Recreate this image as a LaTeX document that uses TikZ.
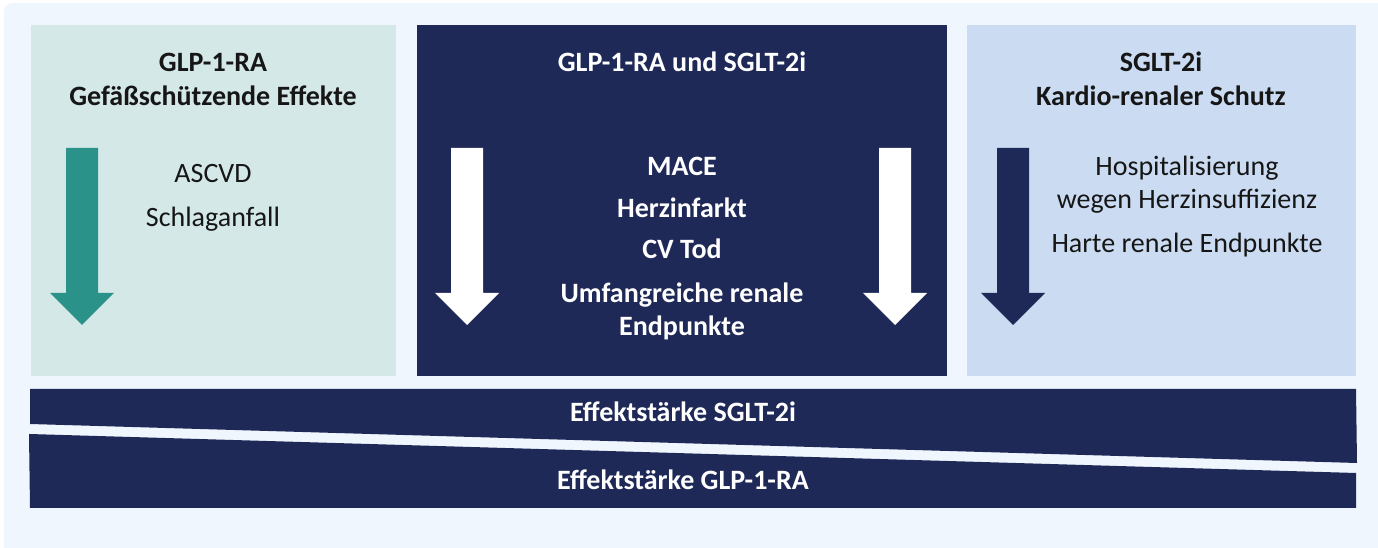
\documentclass[tikz,border=0pt]{standalone}
\usepackage{fontspec}
\setmainfont{Carlito}
\usepackage{tikz}
\definecolor{navy}{RGB}{31,41,87}
\definecolor{teal}{RGB}{42,146,137}
\definecolor{mint}{RGB}{212,232,232}
\definecolor{sky}{RGB}{203,220,242}
\definecolor{paper}{RGB}{239,246,253}
\definecolor{ink}{RGB}{22,22,22}

\begin{document}
\begin{tikzpicture}[x=0.75pt,y=-0.75pt,
    head/.style={font=\bfseries\fontsize{21}{25}\selectfont,anchor=base,inner sep=0pt},
    entry/.style={font=\fontsize{21}{25}\selectfont,anchor=base,inner sep=0pt,text=ink}]
    \useasboundingbox (0,0) rectangle (1378,548);
    \clip (0,0) rectangle (1378,548);
    \fill[paper,rounded corners=6pt] (4,3) rectangle (1395,565);
    \fill[mint] (31,25) rectangle (396,376);
    \fill[navy] (417,25) rectangle (947,376);
    \fill[sky] (967,25) rectangle (1356,376);
    \foreach \ax/\col in {82/teal,467/white,895/white,1013/navy}
      \fill[\col] (\ax-16,148) -- (\ax+16,148) -- (\ax+16,293) -- (\ax+32,293) -- (\ax,325) -- (\ax-32,293) -- (\ax-16,293) -- cycle;
    \fill[navy] (30,389) -- (1356,389) -- (1357,463) -- (30,424) -- cycle;
    \fill[navy] (29,434) -- (1356,473) -- (1356,508) -- (30,508) -- cycle;
    \node[head,text=ink] (glpA) at (213,72) {GLP-1-RA};
    \node[head,text=ink] (glpB) at (213,106) {Gefäßschützende Effekte};
    \node[entry] (ascvd) at (213,183) {ASCVD};
    \node[entry] (stroke) at (213,227) {Schlaganfall};
    \node[head,white] (both) at (682,72) {GLP-1-RA und SGLT-2i};
    \node[head,white] (mace) at (682,176) {MACE};
    \node[head,white] (infarct) at (682,218) {Herzinfarkt};
    \node[head,white] (cvdeath) at (682,259) {CV Tod};
    \node[head,white] (renalA) at (682,303) {Umfangreiche renale};
    \node[head,white] (renalB) at (682,336) {Endpunkte};
    \node[head,text=ink] (sgltA) at (1161,72) {SGLT-2i};
    \node[head,text=ink] (sgltB) at (1161,106) {Kardio-renaler Schutz};
    \node[entry] (hospA) at (1187,176) {Hospitalisierung};
    \node[entry] (hospB) at (1187,209) {wegen Herzinsuffizienz};
    \node[entry] (hard) at (1187,253) {Harte renale Endpunkte};
    \node[head,white] (effSglt) at (683,422) {Effektstärke SGLT-2i};
    \node[head,white] (effGlp) at (683,490) {Effektstärke GLP-1-RA};
  \end{tikzpicture}
\end{document}
